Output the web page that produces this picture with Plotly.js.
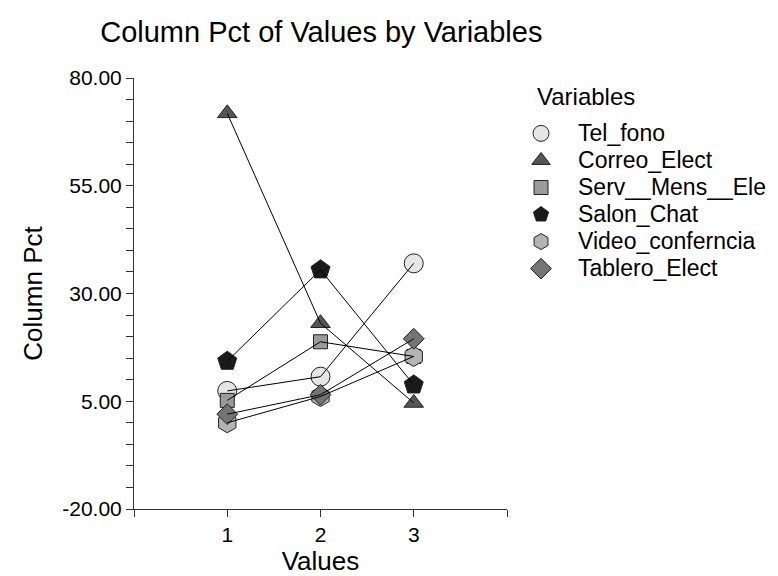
<!DOCTYPE html>
<html>
<head>
<meta charset="utf-8">
<script src="https://cdn.plot.ly/plotly-3.0.1.min.js"></script>
<style>
html,body{margin:0;padding:0;background:#fff;}
#chart{width:778px;height:576px;}
#chart .legendtext{font-size:23px !important;}
#chart .legend .scrollbox, #chart .legend{clip-path:none !important;}
</style>
</head>
<body>
<div id="chart"></div>
<script>
var xValues = [1, 2, 3];
var seriesNames = ["Tel_fono", "Correo_Elect", "Serv__Mens__Ele", "Salon_Chat", "Video_conferncia", "Tablero_Elect"];
var telFono = [7.4, 10.7, 37.0];
var correoElect = [71.8, 23.1, 4.6];
var servMens = [5.2, 18.8, 15.4];
var salonChat = [14.3, 35.5, 8.8];
var videoConf = [0.0, 6.1, 15.4];
var tableroElect = [2.0, 6.5, 19.5];
var yTickVals = [-20, 5, 30, 55, 80];
var yTickText = ["-20.00", "5.00", "30.00", "55.00", "80.00"];
var xTickVals = [0, 1, 2, 3, 4];
var xTickText = ["", "1", "2", "3", ""];
var legendTitle = "Variables";

var seriesValues = [telFono, correoElect, servMens, salonChat, videoConf, tableroElect];
var symbols = ["circle", "triangle-up", "square", "pentagon", "hexagon", "diamond"];
var fills = ["#e6e6e6", "#555555", "#9a9a9a", "#1a1a1a", "#b4b4b4", "#747474"];
var sizes = [19, 17, 14, 20, 20, 16];

var traces = [];
seriesNames.forEach(function (name, i) {
  traces.push({
    x: xValues, y: seriesValues[i], name: name, type: "scatter", mode: "markers",
    marker: {symbol: symbols[i], size: sizes[i], color: fills[i], line: {color: "#222", width: 1}}
  });
});
seriesNames.forEach(function (name, i) {
  traces.push({
    x: xValues, y: seriesValues[i], name: name, type: "scatter", mode: "lines",
    showlegend: false, hoverinfo: "skip",
    line: {color: "#000", width: 1}
  });
});

var font = "Liberation Sans, Arial, sans-serif";
var layout = {
  width: 778, height: 576,
  margin: {l: 134, r: 271, t: 78, b: 67},
  paper_bgcolor: "#fff", plot_bgcolor: "#fff",
  font: {family: font, color: "#000", size: 21},
  title: {text: "Column Pct of Values by Variables", font: {family: font, size: 29, color: "#000"},
          x: 0.413, xanchor: "center", xref: "container", y: 0.944, yanchor: "middle"},
  xaxis: {
    range: [0, 4], tickmode: "array", tickvals: xTickVals, ticktext: xTickText,
    ticks: "outside", ticklen: 7, tickcolor: "#333", showline: true, linecolor: "#333", linewidth: 1,
    showgrid: false, zeroline: false, tickfont: {size: 21},
    title: {text: "Values", font: {size: 26}, standoff: 10}
  },
  yaxis: {
    range: [-20, 80], tickmode: "array", tickvals: yTickVals, ticktext: yTickText,
    ticks: "outside", ticklen: 7, tickcolor: "#333", showline: true, linecolor: "#333", linewidth: 1,
    showgrid: false, zeroline: false, tickfont: {size: 21},
    minor: {dtick: 5, ticks: "outside", ticklen: 7, tickcolor: "#333", showgrid: false},
    title: {text: "Column Pct", font: {size: 26}, standoff: 12}
  },
  showlegend: true,
  legend: {
    x: 0.992, xanchor: "left", y: 0.9145, yanchor: "top",
    itemwidth: 64,
    font: {size: 18.5},
    bgcolor: "rgba(0,0,0,0)", tracegroupgap: 0
  },
  annotations: [{
    text: legendTitle, xref: "paper", yref: "paper", x: 1.075, y: 0.956,
    xanchor: "left", yanchor: "middle", showarrow: false,
    font: {family: font, size: 24, color: "#000"}
  }]
};
Plotly.newPlot("chart", traces, layout, {staticPlot: true});
</script>
</body>
</html>
